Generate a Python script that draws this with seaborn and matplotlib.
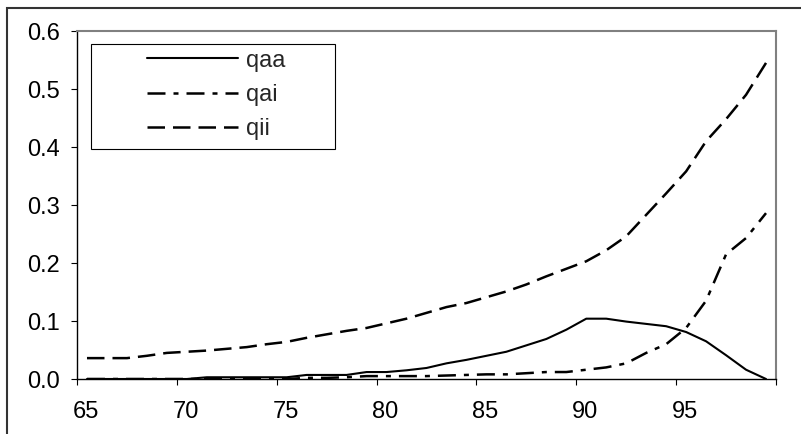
import numpy as np
import pandas as pd
import seaborn as sns
import matplotlib
matplotlib.use("Agg")
import matplotlib.pyplot as plt
from matplotlib.patches import Rectangle
import matplotlib.transforms as mtransforms

ages = [65.5, 66.5, 67.5, 68.5, 69.5, 70.5, 71.5, 72.5, 73.5, 74.5, 75.5, 76.5,
        77.5, 78.5, 79.5, 80.5, 81.5, 82.5, 83.5, 84.5, 85.5, 86.5, 87.5, 88.5,
        89.5, 90.5, 91.5, 92.5, 93.5, 94.5, 95.5, 96.5, 97.5, 98.5, 99.5]
qaa = [0, 0, 0, 0, 0, 0, 0.003, 0.003, 0.003, 0.003, 0.003, 0.007, 0.007, 0.007,
       0.012, 0.012, 0.015, 0.019, 0.027, 0.033, 0.040, 0.047, 0.058, 0.069, 0.085,
       0.104, 0.104, 0.099, 0.095, 0.091, 0.081, 0.065, 0.041, 0.016, 0.0]
qai = [0, 0, 0, 0, 0, 0, 0, 0, 0, 0, 0, 0.002, 0.002, 0.003, 0.005, 0.005, 0.005,
       0.005, 0.006, 0.007, 0.008, 0.008, 0.010, 0.012, 0.012, 0.016, 0.020, 0.027,
       0.045, 0.060, 0.088, 0.135, 0.215, 0.243, 0.286]
qii = [0.036, 0.036, 0.036, 0.040, 0.045, 0.047, 0.049, 0.052, 0.055, 0.060, 0.064,
       0.071, 0.077, 0.083, 0.088, 0.096, 0.104, 0.114, 0.124, 0.131, 0.141, 0.151,
       0.163, 0.177, 0.190, 0.203, 0.222, 0.246, 0.283, 0.320, 0.358, 0.410, 0.448,
       0.490, 0.545]
series_names = ["qaa", "qai", "qii"]
x_ticks = [65, 70, 75, 80, 85, 90, 95, 100]
x_tick_labels = ["65", "70", "75", "80", "85", "90", "95", ""]
y_ticks = [0.0, 0.1, 0.2, 0.3, 0.4, 0.5, 0.6]

df = pd.DataFrame({
    "age": ages * 3,
    "value": qaa + qai + qii,
    "series": [s for s in series_names for _ in ages],
})

sns.set_style("white")
plt.rcParams["font.family"] = ["Liberation Sans", "DejaVu Sans"]
FS = 17

fig = plt.figure(figsize=(8.01, 4.34), dpi=100)
ax = fig.add_axes([77 / 801, 1 - 379 / 434, 699 / 801, 348 / 434])

sns.lineplot(data=df, x="age", y="value", style="series", style_order=series_names,
             dashes={"qaa": "", "qai": (7.2, 3.2, 2, 3.2), "qii": (7, 3.2)},
             color="black", linewidth=1.8, legend=False, ax=ax, estimator=None)
ax.lines[0].set_linewidth(1.5)
ax.lines[1].set_linewidth(1.8)
ax.lines[2].set_linewidth(1.8)

ax.set_xlim(65, 100)
ax.set_ylim(0, 0.6)
ax.set_xticks(x_ticks)
ax.set_xticklabels(x_tick_labels)
ax.set_yticks(y_ticks)
ax.set_yticklabels([f"{v:.1f}" for v in y_ticks])
ax.set_xlabel("")
ax.set_ylabel("")
ax.tick_params(axis="both", direction="out", length=4.5, width=0.8, color="black",
               labelsize=FS, labelcolor="black", bottom=True, left=True)
ax.tick_params(axis="x", pad=11)
ax.tick_params(axis="y", pad=8)

offset = mtransforms.ScaledTranslation(9 / 100, 0, fig.dpi_scale_trans)
for lab in ax.get_xticklabels():
    lab.set_transform(lab.get_transform() + offset)

for side in ["left", "bottom"]:
    ax.spines[side].set_color("black")
    ax.spines[side].set_linewidth(1.0)
for side in ["top", "right"]:
    ax.spines[side].set_color("#808080")
    ax.spines[side].set_linewidth(1.5)

# legend box
lx0, ly0 = (91 - 77) / 699, (379 - 149) / 348
lw_, lh_ = (335 - 91) / 699, (149 - 44) / 348
ax.add_patch(Rectangle((lx0, ly0), lw_, lh_, transform=ax.transAxes, fill=True,
                       facecolor="white", edgecolor="black", linewidth=0.8, zorder=5))
leg = ax.legend(ax.lines[:3], series_names, loc="center left",
                bbox_to_anchor=((147 - 77) / 699, (379 - 95) / 348), frameon=False,
                fontsize=FS, handlelength=3.85, handletextpad=0.34, labelspacing=0.52,
                borderaxespad=0, borderpad=0)
leg.set_zorder(6)

# outer figure border
fig.patches.append(Rectangle((7 / 801, -0.1), 1.2, 1 - 8 / 434 + 0.1,
                             transform=fig.transFigure, fill=False,
                             edgecolor="#333333", linewidth=1.5))

fig.savefig("out.png", dpi=100)
